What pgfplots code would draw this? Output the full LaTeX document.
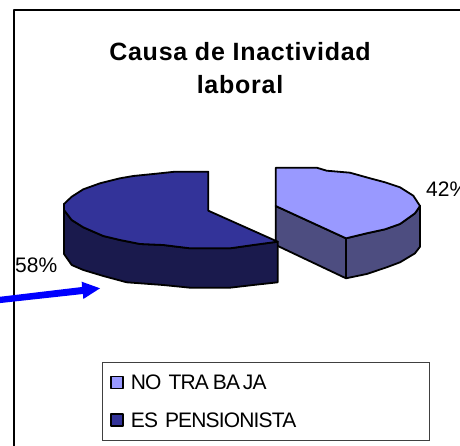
\documentclass[border=0pt]{standalone}
\usepackage{fontspec}
\setmainfont{Liberation Sans}
\usepackage{pgfplots}
\pgfplotsset{compat=1.18}
\definecolor{lighttop}{HTML}{9999FF}
\definecolor{lightside}{HTML}{4D4D80}
\definecolor{darktop}{HTML}{333399}
\definecolor{darkside}{HTML}{1A1A4D}
\begin{document}
\begin{tikzpicture}
\path[use as bounding box,clip] (0,0) rectangle (460pt,446pt);
\begin{axis}[
  at={(0,0)},anchor=south west,
  scale only axis,width=460pt,height=446pt,
  xmin=0,xmax=460,ymin=0,ymax=446,y dir=reverse,
  axis lines=none,clip=true,
  every axis plot/.append style={line join=round},
  legend cell align=left,
  legend image code/.code={\draw[draw=black,line width=1.4pt,#1] (0pt,-6pt) rectangle (12pt,6pt);},
  legend style={at={(axis cs:102,362)},anchor=north west,draw=black!75,line width=0.9pt,
    font=\fontsize{21}{24}\selectfont\addfontfeature{LetterSpace=-4},inner xsep=8pt,inner ysep=12.5pt,row sep=22.5pt,
    nodes={text width=291pt,inner sep=0pt,text height=15pt,text depth=0pt,anchor=west},
    /tikz/every odd column/.append style={column sep=7pt}},
]
% frame
\addplot[forget plot,black,line width=2pt] coordinates {(14,460) (14,10) (470,10)};
% light slice: side
\addplot[forget plot,fill=lightside,draw=black,line width=1.8pt] coordinates {
(275.7,206) (275.7,245) (346,278.3) (366.7,274) (386.7,267.3) (400,262.3) (415,253.3) (420,246.7) (420,206)
(415,213.3) (400,224) (385,229.3) (366.7,233.3) (346,238.3)} --cycle;
\addplot[forget plot,black,line width=1.8pt] coordinates {(346,238.3) (346,278.3)};
% light slice: top
\addplot[fill=lighttop,draw=black,line width=1.8pt] coordinates {
(275.7,167.7) (316.7,167.7) (326.7,170.7) (350,172.7) (370,178.3) (385,182.3) (400,187.3) (413.3,195.7) (420,206)
(415,213.3) (400,224) (385,229.3) (366.7,233.3) (346,238.3) (275.7,206)} --cycle;
\addlegendentry{NO TRA\kern4pt BA\kern3pt JA}
% dark slice: side
\addplot[forget plot,fill=darkside,draw=black,line width=1.8pt] coordinates {
(64,204) (64,254) (71.7,265) (83.3,270) (103.3,276) (126.7,282.3) (163.3,285) (190,287.7) (230,287.7) (253.3,285) (277.7,282.3) (277.7,241.7)
(253.3,245) (230,248.3) (190,248.3) (163.3,245) (140,244) (120,240) (103.3,236) (83.3,227.3) (71.7,220) (64,210)} --cycle;
% dark slice: top
\addplot[fill=darktop,draw=black,line width=1.8pt] coordinates {
(208.3,171.7) (175,171.7) (153.3,174) (133.3,176) (120,178.3) (100,183.3) (83.3,189.3) (71.7,196.7) (64,204) (64,210) (71.7,220) (83.3,227.3) (103.3,236) (120,240) (140,244) (163.3,245) (190,248.3) (230,248.3) (253.3,245) (277.7,241.7) (208.3,210.7)} --cycle;
\addlegendentry{ES PENSIONISTA}
% arrow
\addplot[forget plot,fill=blue,draw=none] coordinates {
(-2,297) (82,287) (81.7,281.7) (100,288.3) (83.3,299) (83,294) (-2,303.3)} --cycle;
% texts
\node[align=center,font=\fontsize{25}{33}\selectfont\bfseries\addfontfeature{LetterSpace=3}] at (axis cs:240,68) {Causa de Inactividad\\laboral};
\node[anchor=base west,inner sep=0pt,font=\fontsize{21}{24}\selectfont] at (axis cs:426,197) {42\%};
\node[anchor=base west,inner sep=0pt,font=\fontsize{21}{24}\selectfont] at (axis cs:15,272) {58\%};
\end{axis}
\end{tikzpicture}
\end{document}
